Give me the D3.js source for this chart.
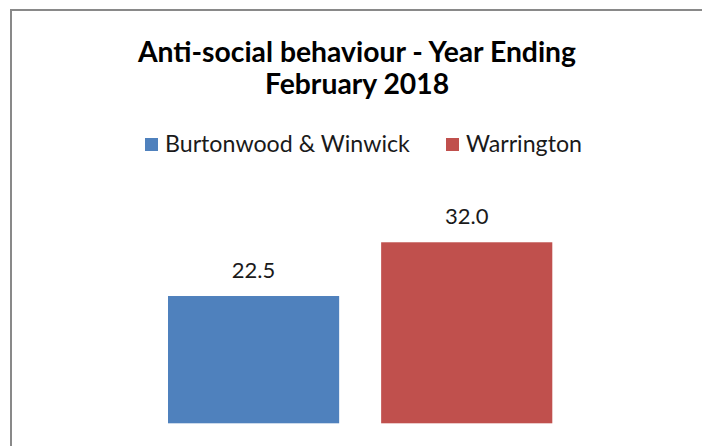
<!DOCTYPE html>
<html><head><meta charset="utf-8">
<script src="https://cdn.jsdelivr.net/npm/d3@7"></script>
<style>html,body{margin:0;padding:0;background:#fff;}svg{display:block;}</style>
</head><body>
<svg id="c" width="702" height="446"></svg>
<script>
const titleLines = ["Anti-social behaviour - Year Ending", "February 2018"];
const series = ["Burtonwood & Winwick", "Warrington"];
const values = [22.5, 32.0];
const colors = ["#4F81BD", "#C0504D"];
const labels = ["22.5", "32.0"];

const svg = d3.select("#c");
const font = "Lato, 'Open Sans', sans-serif";

// outer border (clipped at right/bottom like the reference crop)
svg.append("rect").attr("x", 11).attr("y", 10).attr("width", 760).attr("height", 500)
  .attr("fill", "#fff").attr("stroke", "#898989").attr("stroke-width", 2);

// title
svg.append("text").attr("x", 357).attr("y", 62).attr("text-anchor", "middle")
  .attr("font-family", font).attr("font-weight", "bold").attr("font-size", 28.3).attr("fill", "#000")
  .selectAll("tspan").data(titleLines).join("tspan")
  .attr("x", 357).attr("dy", (d, i) => i === 0 ? 0 : 32).text(d => d);

// legend
const legendX = [145, 446];
const lg = svg.append("g").selectAll("g").data(series).join("g")
  .attr("transform", (d, i) => `translate(${legendX[i]},138)`);
lg.append("rect").attr("width", 13).attr("height", 13).attr("fill", (d, i) => colors[i]);
lg.append("text").attr("x", 20).attr("y", 14.3).attr("font-family", font).attr("font-size", 23.2)
  .attr("fill", "#1a1a1a").text(d => d);

// scales
const x = d3.scaleBand().domain(series).range([168, 552.3]).paddingInner(0.197).paddingOuter(0);
const y = d3.scaleLinear().domain([0, 35]).range([423.3, 423.3 - 35 * 5.657]);

svg.append("g").selectAll("rect").data(values).join("rect")
  .attr("x", (d, i) => x(series[i])).attr("width", x.bandwidth())
  .attr("y", d => y(d)).attr("height", d => y(0) - y(d))
  .attr("fill", (d, i) => colors[i]);

svg.append("g").selectAll("text").data(values).join("text")
  .attr("x", (d, i) => x(series[i]) + x.bandwidth() / 2)
  .attr("y", d => y(d) - 18)
  .attr("text-anchor", "middle").attr("font-family", font).attr("font-size", 22)
  .attr("fill", "#1a1a1a").text((d, i) => labels[i]);
</script>
</body></html>
